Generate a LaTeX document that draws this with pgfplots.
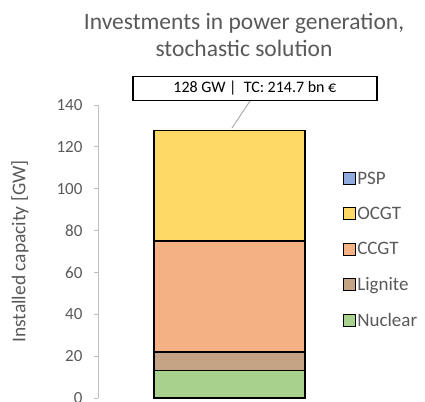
\documentclass[border=0pt]{standalone}
\usepackage{pgfplots}
\pgfplotsset{compat=1.18}
\usepackage{fontspec}
\setmainfont{Carlito}
\definecolor{txt}{HTML}{595959}
\definecolor{axgray}{HTML}{BFBFBF}
\definecolor{cpsp}{HTML}{8FAADC}
\definecolor{cocgt}{HTML}{FFD966}
\definecolor{cccgt}{HTML}{F4B183}
\definecolor{clig}{HTML}{C4A484}
\definecolor{cnuc}{HTML}{A9D18E}
\begin{document}
\begin{tikzpicture}
\useasboundingbox (0,0) rectangle (425pt,401pt);
\begin{axis}[
  at={(98pt,3pt)}, anchor=south west,
  scale only axis, width=263pt, height=293pt,
  xmin=-1, xmax=1, ymin=0, ymax=140,
  ybar stacked, bar width=151pt,
  clip=false,
  axis x line=none,
  axis y line*=left,
  y axis line style={axgray, line width=0.8pt, -},
  ytick={0,20,...,140},
  ytick style={axgray, line width=0.8pt},
  tick align=outside, major tick length=4pt,
  yticklabel style={txt, font=\fontsize{17}{17}\selectfont, xshift=-8pt},
  /pgf/number format/assume math mode=true,
  ylabel={Installed capacity [GW]},
  ylabel style={txt, font=\fontsize{19.5}{20}\selectfont, at={(axis description cs:0,0.5)}, anchor=center, yshift=78pt},
  legend style={at={(axis description cs:0.932,0.776)}, anchor=north west, draw=none, fill=none,
    font=\fontsize{19}{19}\selectfont, text=txt, row sep=19.3pt, inner sep=0pt,
    nodes={inner sep=1pt}},
  legend cell align=left,
  reverse legend,
  legend image code/.code={\draw[#1, draw=black, line width=1pt] (0pt,-6pt) rectangle (12pt,6pt);},
  every axis plot/.append style={draw=black, line width=1.2pt},
]
\addplot[fill=cnuc] coordinates {(0,13.0)};
\addplot[fill=clig] coordinates {(0,9.0)};
\addplot[fill=cccgt] coordinates {(0,53.0)};
\addplot[fill=cocgt] coordinates {(0,53.0)};
\addplot[fill=cpsp] coordinates {(0,0)};
\legend{Nuclear, Lignite, CCGT, OCGT, PSP}
\draw[gray!70, line width=0.9pt] (axis cs:0.156,141.9) -- (axis cs:0.019,129);
\node[draw=black, line width=1.3pt, fill=white, text=black, minimum width=244pt, minimum height=24pt, inner sep=0pt,
  font=\fontsize{16}{16}\selectfont] at (axis cs:0.193,148) {128 GW |\ \ TC: 214.7 bn €};
\end{axis}
\node[text=txt, align=center, font=\fontsize{23.5}{27}\selectfont] at (244pt,366pt) {Investments in power generation,\\stochastic solution};
\end{tikzpicture}
\end{document}
